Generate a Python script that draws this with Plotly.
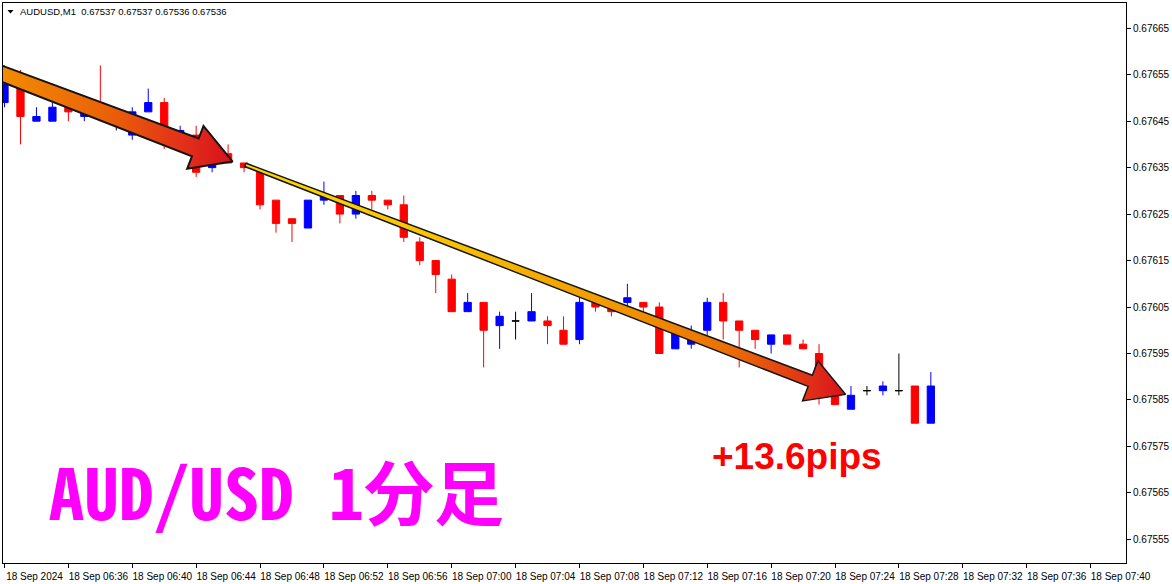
import numpy as np
import pandas as pd
import plotly.graph_objects as go

# AUDUSD M1 candles, 18 Sep 2024, one per minute from 06:32
times = pd.date_range("2024-09-18 06:32", periods=59, freq="min")

opens = [0.67649, 0.67655, 0.67645, 0.67645, 0.67648, 0.67646, 0.67649, 0.67646, 0.67642, 0.67647,
         0.67649, 0.67641, 0.67642, 0.67635, 0.67638, 0.67636, 0.67634, 0.67628, 0.67624, 0.67622,
         0.67628, 0.67629, 0.67625, 0.67629, 0.67628, 0.67627, 0.67619, 0.67615, 0.67611, 0.67604,
         0.67606, 0.67601, 0.67602, 0.67602, 0.67602, 0.67600, 0.67598, 0.67606, 0.67605, 0.67606,
         0.67606, 0.67605, 0.67596, 0.67597, 0.67600, 0.67606, 0.67602, 0.67600, 0.67597, 0.67599,
         0.67597, 0.67595, 0.67587, 0.67583, 0.67587, 0.67587, 0.67587, 0.67588, 0.67580]
highs = [0.67657, 0.67656, 0.67648, 0.67649, 0.67649, 0.67648, 0.67657, 0.67648, 0.67648, 0.67652,
         0.67650, 0.67644, 0.67644, 0.67637, 0.67640, 0.67636, 0.67634, 0.67628, 0.67624, 0.67628,
         0.67632, 0.67629, 0.67630, 0.67630, 0.67628, 0.67629, 0.67620, 0.67615, 0.67612, 0.67608,
         0.67606, 0.67604, 0.67604, 0.67608, 0.67603, 0.67603, 0.67607, 0.67607, 0.67606, 0.67610,
         0.67606, 0.67606, 0.67601, 0.67601, 0.67607, 0.67608, 0.67602, 0.67600, 0.67599, 0.67599,
         0.67598, 0.67597, 0.67588, 0.67588, 0.67588, 0.67589, 0.67595, 0.67588, 0.67591]
lows = [0.67648, 0.67640, 0.67645, 0.67645, 0.67645, 0.67645, 0.67647, 0.67643, 0.67641, 0.67647,
        0.67639, 0.67640, 0.67633, 0.67634, 0.67636, 0.67634, 0.67626, 0.67621, 0.67619, 0.67622,
        0.67627, 0.67623, 0.67624, 0.67626, 0.67626, 0.67619, 0.67614, 0.67608, 0.67604, 0.67604,
        0.67592, 0.67596, 0.67598, 0.67602, 0.67597, 0.67597, 0.67597, 0.67604, 0.67603, 0.67605,
        0.67604, 0.67595, 0.67596, 0.67596, 0.67599, 0.67598, 0.67592, 0.67596, 0.67595, 0.67597,
        0.67596, 0.67584, 0.67584, 0.67583, 0.67586, 0.67586, 0.67586, 0.67580, 0.67580]
closes = [0.67653, 0.67646, 0.67646, 0.67648, 0.67647, 0.67647, 0.67648, 0.67646, 0.67647, 0.67649,
          0.67642, 0.67643, 0.67634, 0.67636, 0.67636, 0.67635, 0.67627, 0.67623, 0.67623, 0.67628,
          0.67629, 0.67625, 0.67629, 0.67628, 0.67627, 0.67620, 0.67615, 0.67612, 0.67604, 0.67606,
          0.67600, 0.67603, 0.67602, 0.67604, 0.67601, 0.67597, 0.67606, 0.67605, 0.67604, 0.67607,
          0.67605, 0.67595, 0.67600, 0.67599, 0.67606, 0.67602, 0.67600, 0.67598, 0.67599, 0.67597,
          0.67596, 0.67590, 0.67584, 0.67586, 0.67587, 0.67588, 0.67587, 0.67580, 0.67588]

tick_times = pd.date_range("2024-09-18 06:32", "2024-09-18 07:40", freq="4min")
tick_labels = ["18 Sep 2024", "18 Sep 06:36", "18 Sep 06:40", "18 Sep 06:44", "18 Sep 06:48",
               "18 Sep 06:52", "18 Sep 06:56", "18 Sep 07:00", "18 Sep 07:04", "18 Sep 07:08",
               "18 Sep 07:12", "18 Sep 07:16", "18 Sep 07:20", "18 Sep 07:24", "18 Sep 07:28",
               "18 Sep 07:32", "18 Sep 07:36", "18 Sep 07:40"]
price_ticks = [0.67555, 0.67565, 0.67575, 0.67585, 0.67595, 0.67605,
               0.67615, 0.67625, 0.67635, 0.67645, 0.67655, 0.67665]

header_text = "AUDUSD,M1  0.67537 0.67537 0.67536 0.67536"
title_text = "AUD/USD 1分足"
pips_text = "+13.6pips"

# trend arrows drawn on the chart: (time, price) of tail and tip
arrow1_tail = ("2024-09-18 06:31:00", 0.676563)
arrow1_tip = ("2024-09-18 06:46:17", 0.676363)
arrow2_tail = ("2024-09-18 06:47:05", 0.676356)
arrow2_tip = ("2024-09-18 07:24:40", 0.675862)

# ---- layout geometry (pixels) ----
W, H = 1172, 584
M_L, M_R, M_T, M_B = 2, 45, 2, 21
PLOT_W = W - M_L - M_R
PLOT_H = H - M_T - M_B
t0 = times[0]
x_range = [t0 - pd.Timedelta(minutes=0.094), t0 + pd.Timedelta(minutes=70.22)]
y_range = [0.6754991, 0.6767043]
PX_MIN = PLOT_W / ((x_range[1] - x_range[0]).total_seconds() / 60)
PX_PRICE = PLOT_H / (y_range[1] - y_range[0])


def fx(px):
    return (px - M_L) / PLOT_W


def fy(py):
    return (H - M_B - py) / PLOT_H


def arrow_xy(tail, tip, w_tail, w_base, head_len, head_half):
    def to_px(pt):
        t, p = pt
        return np.array([(pd.Timestamp(t) - t0).total_seconds() / 60 * PX_MIN, p * PX_PRICE])
    a, b = to_px(tail), to_px(tip)
    d = (b - a) / np.linalg.norm(b - a)
    n = np.array([-d[1], d[0]])
    base = b - d * head_len
    pts = [a + n * w_tail / 2, base + n * w_base / 2, base + n * head_half, b,
           base - n * head_half, base - n * w_base / 2, a - n * w_tail / 2, a + n * w_tail / 2]
    xs = [t0 + pd.Timedelta(minutes=p[0] / PX_MIN) for p in pts]
    ys = [p[1] / PX_PRICE for p in pts]
    return xs, ys


df = pd.DataFrame({"time": times, "open": opens, "high": highs, "low": lows, "close": closes})
doji = df["open"] == df["close"]
body = df[~doji]
cross = df[doji]

fig = go.Figure()

fig.add_trace(go.Candlestick(
    x=body["time"], open=body["open"], high=body["high"], low=body["low"], close=body["close"],
    increasing=dict(line=dict(color="#0000FF", width=1), fillcolor="#0000FF"),
    decreasing=dict(line=dict(color="#FF0000", width=1), fillcolor="#FF0000"),
    hoverinfo="skip", showlegend=False
))
fig.add_trace(go.Candlestick(
    x=cross["time"], open=cross["open"], high=cross["high"], low=cross["low"], close=cross["close"],
    increasing=dict(line=dict(color="#000000", width=1), fillcolor="#000000"),
    decreasing=dict(line=dict(color="#000000", width=1), fillcolor="#000000"),
    hoverinfo="skip", showlegend=False
))

ax, ay = arrow_xy(arrow1_tail, arrow1_tip, 15, 19, 40, 23)
fig.add_trace(go.Scatter(
    x=ax, y=ay, mode="lines", fill="toself",
    fillgradient=dict(type="horizontal",
                      colorscale=[[0, "#F39200"], [0.5, "#EA6008"], [0.8, "#E2301A"], [1, "#D8101C"]]),
    line=dict(color="#141414", width=2), hoverinfo="skip", showlegend=False
))

bx, by = arrow_xy(arrow2_tail, arrow2_tip, 3.5, 12, 38, 21.5)
fig.add_trace(go.Scatter(
    x=bx, y=by, mode="lines", fill="toself",
    fillgradient=dict(type="horizontal",
                      colorscale=[[0, "#FFD800"], [0.35, "#F8C000"], [0.6, "#F29A00"],
                                  [0.8, "#EC7004"], [0.92, "#E23A14"], [1, "#D8121C"]]),
    line=dict(color="#141414", width=1.5), hoverinfo="skip", showlegend=False
))

fig.add_annotation(x=fx(17), y=fy(10.5), xref="paper", yref="paper", text=header_text,
                   xanchor="left", yanchor="middle", showarrow=False,
                   font=dict(family="Liberation Sans", size=9.5, color="#000000"))
fig.add_shape(type="path", xref="paper", yref="paper",
              path=f"M {fx(6.5)} {fy(9)} L {fx(12.5)} {fy(9)} L {fx(9.5)} {fy(12.5)} Z",
              fillcolor="#000000", line=dict(width=0))

fig.add_annotation(x=fx(46), y=fy(489), xref="paper", yref="paper", text=f"<b>{title_text}</b>",
                   xanchor="left", yanchor="middle", showarrow=False,
                   font=dict(family="Noto Sans Mono CJK JP, Noto Sans CJK JP", size=70, color="#FF00FF"))
fig.add_annotation(x=fx(710), y=fy(456), xref="paper", yref="paper", text=f"<b>{pips_text}</b>",
                   xanchor="left", yanchor="middle", showarrow=False,
                   font=dict(family="Liberation Sans", size=37, color="#FF0000"))

fig.update_layout(
    width=W, height=H,
    margin=dict(l=M_L, r=M_R, t=M_T, b=M_B),
    paper_bgcolor="#FFFFFF", plot_bgcolor="#FFFFFF",
    boxgap=0.35,
    showlegend=False,
    font=dict(family="Liberation Sans", size=10, color="#000000"),
    xaxis=dict(
        type="date", range=x_range, rangeslider=dict(visible=False),
        tickvals=tick_times, ticktext=tick_labels, ticklabelshift=30,
        ticks="outside", ticklen=4, tickcolor="#000000",
        showgrid=False, zeroline=False,
        showline=True, mirror=True, linecolor="#000000", linewidth=1,
        tickfont=dict(family="Liberation Sans", size=10, color="#000000"),
    ),
    yaxis=dict(
        range=y_range, side="right",
        tickvals=price_ticks, tickformat=".5f",
        ticks="outside", ticklen=4, tickcolor="#000000",
        showgrid=False, zeroline=False,
        showline=True, mirror=True, linecolor="#000000", linewidth=1,
        tickfont=dict(family="Liberation Sans", size=10, color="#000000"),
    ),
)

# the page's default body margin would shift the chart by 8px
fig.write_html("out.html", config={"displayModeBar": False},
               post_script="document.body.style.margin='0';")
